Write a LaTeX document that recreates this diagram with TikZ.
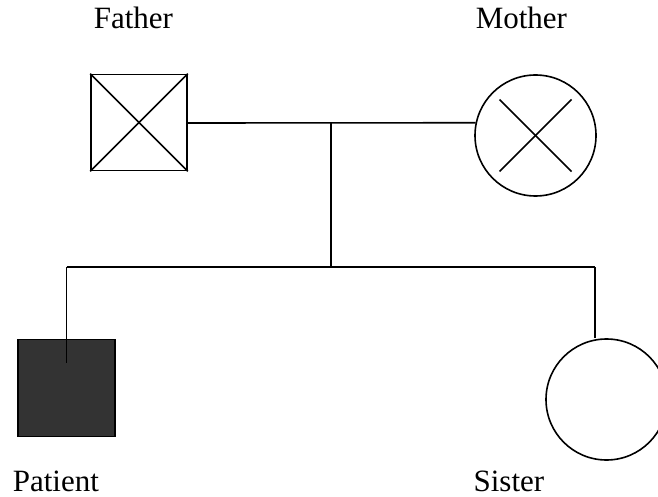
\documentclass[tikz,border=0pt]{standalone}
\usepackage{fontspec}
\setmainfont{Liberation Serif}
\definecolor{affected}{HTML}{333333}
\begin{document}
\begin{tikzpicture}[x=1pt,y=-1pt,
  line width=1.6pt,
  lbl/.style={inner sep=0pt,font=\fontsize{31}{36}\selectfont},
  malebox/.style={draw,rectangle,minimum size=96pt,inner sep=0pt},
  femalecirc/.style={draw,circle,minimum size=121pt,inner sep=0pt}]
\useasboundingbox (0,0) rectangle (658,497);
\clip (0,0) rectangle (658,497);
% labels
\node[lbl,anchor=base west] (tf) at (93,29) {Father};
\node[lbl,anchor=base west] (tm) at (475,29) {Mother};
\node[lbl,anchor=base west] (tp) at (12,491) {Patient};
\node[lbl,anchor=base east] (ts) at (545,491) {Sister};
% parents
\node[malebox] (father) at (139,122.5) {};
\draw (father.north west) -- (father.south east);
\draw (father.north east) -- (father.south west);
\node[femalecirc] (mother) at (535.5,135.5) {};
\coordinate (mx1) at (499.5,99.5);
\coordinate (mx2) at (571.5,171.5);
\coordinate (mx3) at (571.5,99.5);
\coordinate (mx4) at (499.5,171.5);
\draw (mx1) -- (mx2);
\draw (mx3) -- (mx4);
% children
\node[malebox,minimum size=97pt,fill=affected] (patient) at (66.5,388) {};
\node[femalecirc] (sister) at (606.5,399.5) {};
% connectors
\coordinate (mid) at (331,123);
\coordinate (sib) at (331,267);
\coordinate (sibL) at (66.5,267);
\coordinate (sibR) at (595,267);
\coordinate (pdrop) at (66.5,363);
\draw (father.east |- mid) -- (mother.168);
\draw (mid) -- (sib);
\draw (sibL) -- (sibR);
\draw (sibL) -- (pdrop);
\draw (sibR) -- (sibR |- sister.north);
\end{tikzpicture}
\end{document}
